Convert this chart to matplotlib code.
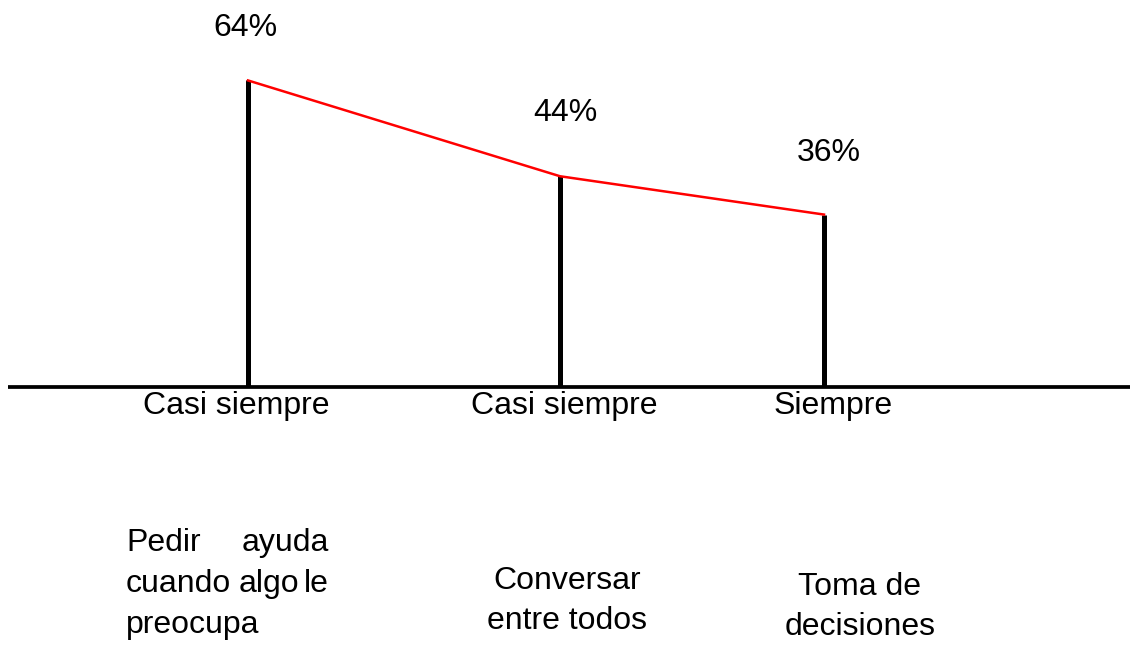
import matplotlib.pyplot as plt

plt.rcParams['font.family'] = ['Liberation Sans', 'DejaVu Sans']

# data
valores = [64, 44, 36]
etiquetas = ['64%', '44%', '36%']
frecuencia = ['Casi siempre', 'Casi siempre', 'Siempre']
aspectos = ['Pedir ayuda\ncuando algo le\npreocupa', 'Conversar\nentre todos', 'Toma de\ndecisiones']

# layout (figure pixels)
W, H = 1130, 649
x_pos = [248, 560, 824]
base_px = 387
px_per_pct = 4.79
pct_lbl = [(245, 36), (565, 121), (829, 161)]
frec_lbl = [236, 564, 833]
frec_base = 414
fs = 23

fig = plt.figure(figsize=(W / 100, H / 100), dpi=100)
ax = fig.add_axes([0, 0, 1, 1])
ax.set_xlim(0, W)
ax.set_ylim(-(H - base_px) / px_per_pct, base_px / px_per_pct)
ax.axis('off')

# overlay in pixel coords for text
tx = fig.add_axes([0, 0, 1, 1], facecolor='none')
tx.set_xlim(0, W)
tx.set_ylim(H, 0)
tx.axis('off')

ax.plot([8, W], [0, 0], color='black', lw=2.7, solid_capstyle='butt')
ax.vlines(x_pos, 0, valores, color='black', lw=3.6)
ax.plot(x_pos, valores, color='red', lw=1.8)

for (lx, ly), t in zip(pct_lbl, etiquetas):
    tx.text(lx, ly, t, fontsize=fs, ha='center', va='baseline')

for lx, t in zip(frec_lbl, frecuencia):
    tx.text(lx, frec_base, t, fontsize=fs, ha='center', va='baseline')

# bottom descriptions (first one justified)
w1 = aspectos[0].split('\n')[0].split()
w2 = aspectos[0].split('\n')[1].split()
l3 = aspectos[0].split('\n')[2]
tx.text(126, 551, w1[0], fontsize=fs, ha='left', va='baseline')
tx.text(329, 551, w1[1], fontsize=fs, ha='right', va='baseline')
tx.text(126, 592, w2[0], fontsize=fs, ha='left', va='baseline')
tx.text(239, 592, w2[1], fontsize=fs, ha='left', va='baseline')
tx.text(329, 592, w2[2], fontsize=fs, ha='right', va='baseline')
tx.text(126, 633, l3, fontsize=fs, ha='left', va='baseline')

for cx, top, t in [(567, 589, aspectos[1]), (860, 595, aspectos[2])]:
    for i, line in enumerate(t.split('\n')):
        tx.text(cx, top + 40 * i, line, fontsize=fs, ha='center', va='baseline')

fig.savefig('out.png', dpi=100)
